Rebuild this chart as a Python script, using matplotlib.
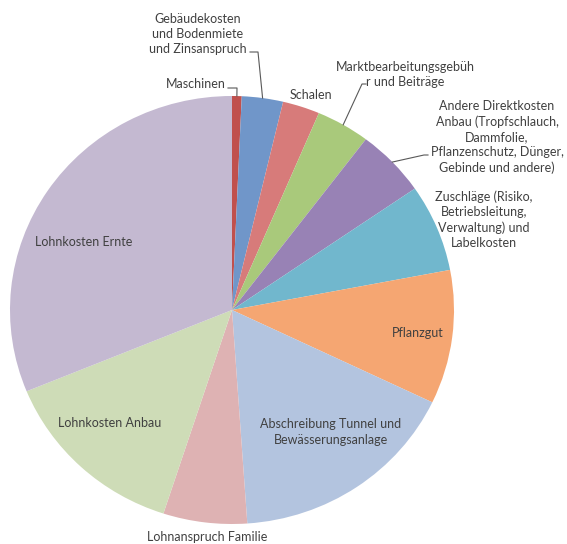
import numpy as np
import matplotlib
matplotlib.use("Agg")
import matplotlib.pyplot as plt

categories = [
    "Maschinen",
    "Gebäudekosten\nund Bodenmiete\nund Zinsanspruch",
    "Schalen",
    "Marktbearbeitungsgebüh\nr und Beiträge",
    "Andere Direktkosten\nAnbau (Tropfschlauch,\nDammfolie,\nPflanzenschutz, Dünger,\nGebinde und andere)",
    "Zuschläge (Risiko,\nBetriebsleitung,\nVerwaltung) und\nLabelkosten",
    "Pflanzgut",
    "Abschreibung Tunnel und\nBewässerungsanlage",
    "Lohnanspruch Familie",
    "Lohnkosten Anbau",
    "Lohnkosten Ernte",
]
values = [0.7, 3.0, 2.7, 3.9, 5.1, 6.6, 10.1, 16.8, 6.1, 13.8, 31.2]
colors = ["#C0504D", "#7096C9", "#D77B7A", "#A9C97B", "#9882B5", "#71B7CD",
          "#F5A672", "#B3C4DF", "#DEB2B3", "#CEDCB7", "#C4B9D1"]

W, H = 567, 544
CX, CY = 232, 310          # pie centre in pixels (from top-left)
RX, RY = 222, 214          # pixel radii

fig = plt.figure(figsize=(W / 100, H / 100), dpi=100)
ax = fig.add_axes([0, 0, 1, 1])

wedges, _ = ax.pie(values, colors=colors, startangle=90, counterclock=False,
                   wedgeprops=dict(linewidth=0), radius=1.0, frame=True)
ax.set_aspect("auto")
ax.set_xlim(-CX / RX, (W - CX) / RX)
ax.set_ylim(-(H - CY) / RY, CY / RY)
ax.axis("off")


def px(x, y):
    return (x - CX) / RX, (CY - y) / RY


font = ["Lato", "DejaVu Sans"]
tc = "#404040"
fs = 9.0

# label positions (pixel centres) -- layout only
label_pos = [
    (196, 84), (198, 34), (311, 95), (405, 74), (497, 137), (484, 220),
    (418, 333), (331, 432), (207, 537), (110, 423), (84, 242),
]
for lab, (x, y) in zip(categories, label_pos):
    ax.text(*px(x, y), lab, ha="center", va="center", fontsize=fs,
            family=font, color=tc, linespacing=1.3)

# leader lines: from wedge mid-angle at the rim to elbow points
def rim(i):
    w = wedges[i]
    a = np.deg2rad((w.theta1 + w.theta2) / 2)
    return np.cos(a), np.sin(a)

leaders = {
    0: [(237, 88), (228, 88)],
    1: [(258, 52), (250, 52)],
    3: [(362, 84), (366, 84)],
    4: [(424, 155), (428, 155)],
}
for i, pts in leaders.items():
    x0, y0 = rim(i)
    xs = [x0] + [px(*p)[0] for p in pts]
    ys = [y0] + [px(*p)[1] for p in pts]
    ax.plot(xs, ys, color="#595959", lw=0.8)

fig.savefig("out.png", dpi=100, facecolor="white")
